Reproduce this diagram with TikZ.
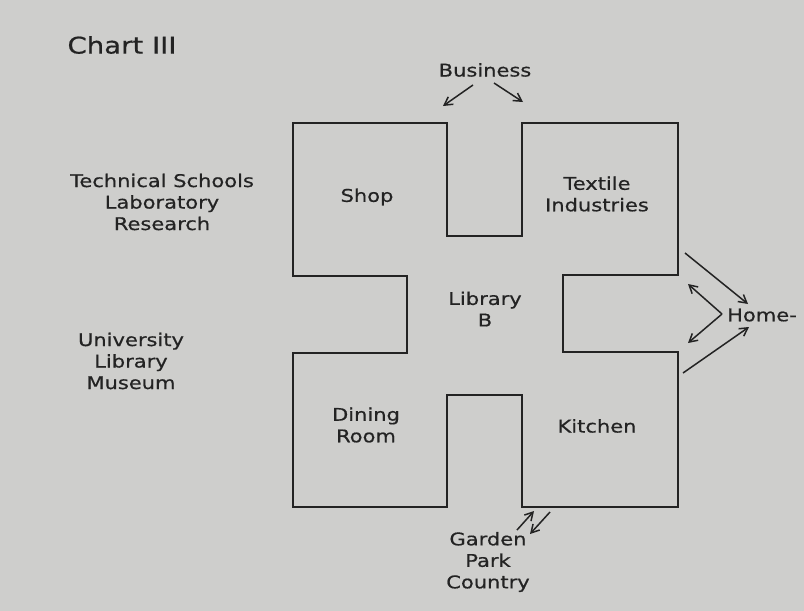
\documentclass[tikz,border=0pt]{standalone}
\usepackage{fontspec}
\setmainfont[FakeStretch=1.2,FakeBold=0.6]{DejaVu Sans}
\usetikzlibrary{arrows.meta}
\definecolor{paper}{RGB}{206,206,204}
\definecolor{ink}{RGB}{35,35,35}
\begin{document}
\begin{tikzpicture}[x=1pt,y=-1pt,
  lbl/.style={text=ink,font=\fontsize{17.5}{21.5}\selectfont,align=center,inner sep=0pt},
  wall/.style={draw=ink,line width=2pt,line join=miter},
  arr/.style={draw=ink,line width=1.5pt,-{Straight Barb[length=8pt,width=9pt]}}]
\useasboundingbox (0,0) rectangle (804,611);
\fill[paper] (0,0) rectangle (804,611);
\draw[wall] (293,123) -- (447,123) -- (447,236) -- (522,236) -- (522,123) -- (678,123)
  -- (678,275) -- (563,275) -- (563,352) -- (678,352) -- (678,507) -- (522,507)
  -- (522,395) -- (447,395) -- (447,507) -- (293,507) -- (293,353) -- (407,353)
  -- (407,276) -- (293,276) -- cycle;
\node[lbl,font=\fontsize{23}{26}\selectfont] (title) at (122,45) {Chart III};
\node[lbl] (business) at (485,70) {Business};
\node[lbl] (tech) at (162,202) {Technical Schools\\Laboratory\\Research};
\node[lbl] (univ) at (131,361) {University\\Library\\Museum};
\node[lbl] (shop) at (367,197) {Shop};
\node[lbl] (textile) at (597,194) {Textile\\Industries};
\node[lbl] (library) at (485,309) {Library\\B};
\node[lbl] (dining) at (366,425) {Dining\\Room};
\node[lbl] (kitchen) at (597,426) {Kitchen};
\node[lbl] (home) at (762,315) {Home-};
\node[lbl] (garden) at (488,562) {Garden\\Park\\Country};
\coordinate (b1s) at (473,85); \coordinate (b1e) at (443,106);
\coordinate (b2s) at (494,83); \coordinate (b2e) at (523,102);
\draw[arr] (b1s) -- (b1e);
\draw[arr] (b2s) -- (b2e);
\coordinate (h1s) at (685,253); \coordinate (h1e) at (748,304);
\coordinate (hc) at (722,314);
\coordinate (h2e) at (688,284); \coordinate (h3e) at (688,343);
\coordinate (h4s) at (683,373); \coordinate (h4e) at (749,327);
\draw[arr] (h1s) -- (h1e);
\draw[arr] (hc) -- (h2e);
\draw[arr] (hc) -- (h3e);
\draw[arr] (h4s) -- (h4e);
\coordinate (g1s) at (517,530); \coordinate (g1e) at (534,511);
\coordinate (g2s) at (550,512); \coordinate (g2e) at (530,534);
\draw[arr] (g1s) -- (g1e);
\draw[arr] (g2s) -- (g2e);
\end{tikzpicture}
\end{document}
